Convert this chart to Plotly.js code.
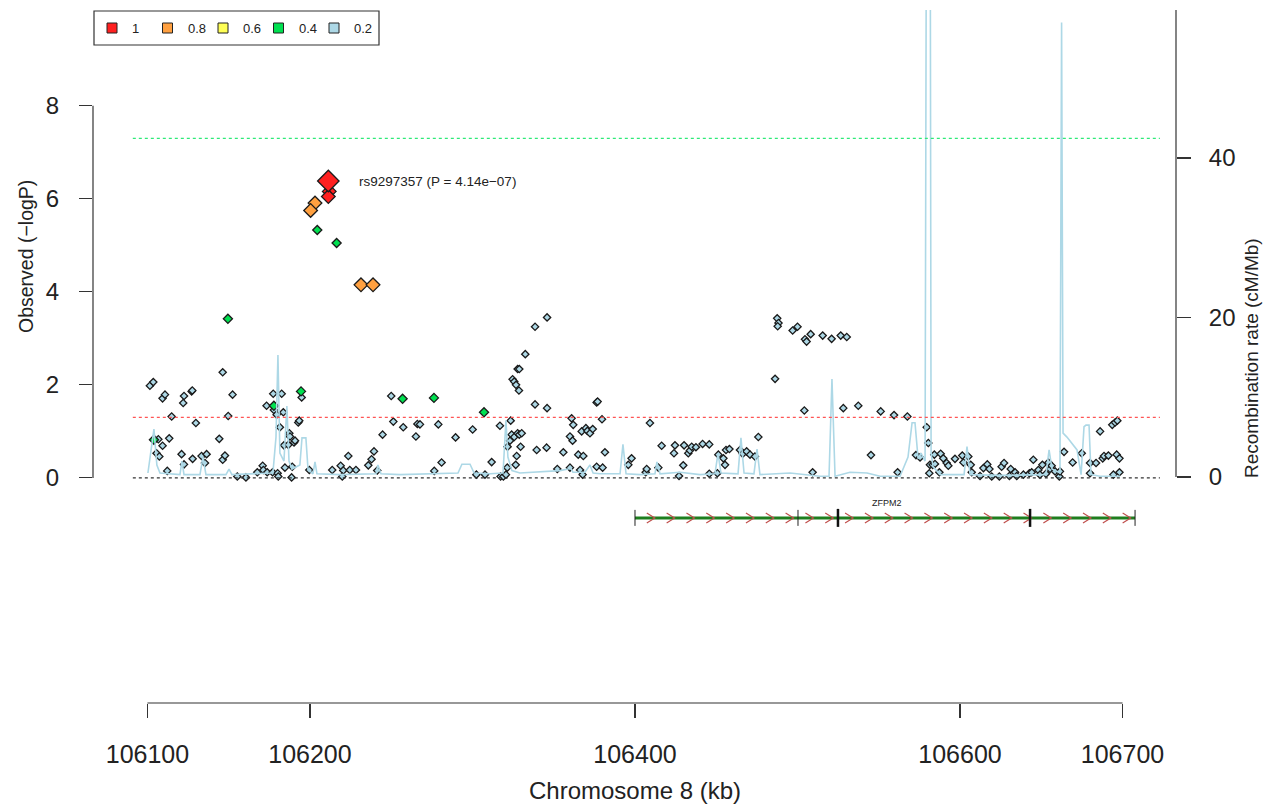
<!DOCTYPE html>
<html>
<head>
<meta charset="utf-8">
<script src="https://cdn.plot.ly/plotly-3.0.1.min.js"></script>
<style>html,body{margin:0;padding:0;background:#fff;}#chart{width:1273px;height:809px;}</style>
</head>
<body>
<div id="chart"></div>
<script>
// ---------------- DATA ----------------
// SNPs with r^2 < 0.2 (light blue)
const posLow = [106101.5,106103.6,106109.3,106110.8,106122.5,106122.0,106127.2,106127.6,106146.3,106152.4,106114.9,106129.8,106149.7,106106.7,106113.4,106109.3,106105.6,106107.3,106121.0,106122.5,106127.8,106133.3,106136.4,106135.4,106144.2,106146.3,106147.7,106112.2,106155.3,106160.6,106167.6,106170.9,106171.3,106173.7,106177.0,106180.1,106180.5,106184.6,106189.1,106188.7,106177.4,106182.6,106173.3,106177.8,106179.5,106183.6,106181.5,106187.3,106187.7,106184.0,106186.7,106190.2,106190.8,106192.8,106193.4,106194.9,106199.6,106213.7,106218.9,106220.5,106219.9,106223.6,106224.5,106228.3,106235.9,106237.9,106239.4,106241.4,106244.7,106250.0,106251.3,106257.4,106265.2,106266.1,106267.7,106279.0,106276.5,106281.0,106289.6,106300.1,106302.4,
106307.7,106311.8,106316.9,106317.3,106319.0,106320.6,106321.4,106321.6,106323.5,106323.1,106324.1,106325.7,106326.6,106327.2,106327.8,106328.8,106329.6,106330.3,106339.5,106345.6,106352.2,106355.9,106360.0,106360.0,106361.0,106362.0,106361.6,106365.1,106366.2,106367.8,106368.2,106367.2,106369.8,106370.7,106372.3,106374.0,106376.4,106379.7,106380.1,106381.5,106395.9,106397.9,106406.6,106407.2,106409.2,106414.4,106416.4,106424.0,106424.6,106427.1,106429.7,106430.2,106432.8,106433.8,106434.9,106437.5,106441.6,106445.7,106445.7,106450.7,106451.3,106454.4,106455.4,106456.0,106458.1,106464.6,106466.3,106468.7,106470.8,106473.8,106475.9,
106345.9,106338.5,106332.5,106327.8,106328.8,106324.7,106325.7,106326.8,106328.6,106338.5,106345.9,106376.4,106377.0,106486.2,106487.5,106488.3,106487.8,106497.0,106500.0,106504.6,106505.6,106508.1,106515.5,106521.0,106526.6,106530.3,106504.2,106528.2,106537.4,106551.2,106559.4,106567.6,106579.5,106580.5,106545.2,106572.9,106575.4,106509.3,106561.6,
106581.5,106583.2,106584.6,106584.2,106588.1,106589.7,106591.8,106592.8,106596.9,106601.4,106602.1,106605.1,106606.6,106607.2,106612.3,106614.4,106616.8,106618.1,106619.5,106624.2,106625.6,106627.1,106630.4,106631.2,106633.9,106634.9,106639.0,106642.7,106644.1,106645.1,106648.2,106649.2,106650.7,106652.9,106654.4,106655.4,106656.4,106658.5,106661.1,106661.5,106664.0,106669.3,106674.9,106680.0,106680.0,106683.7,106686.2,106687.8,106688.6,106691.3,106693.7,106695.4,106696.8,106696.4,106698.1,106698.1,106694.4,106581.1,106587.3];
const logpLow = [1.98,2.06,1.71,1.79,1.76,1.61,1.86,1.88,2.27,1.79,1.32,1.18,1.33,0.83,0.85,0.69,0.53,0.46,0.51,0.29,0.41,0.47,0.51,0.32,0.84,0.39,0.48,0.15,0.03,0.01,0.12,0.26,0.17,0.12,0.12,0.10,0.03,0.22,0.24,0.01,1.81,1.81,1.55,1.46,1.36,1.41,1.09,0.96,0.89,0.70,0.71,0.76,0.80,1.19,1.23,1.73,0.17,0.17,0.26,0.16,0.03,0.47,0.17,0.17,0.27,0.40,0.57,0.16,0.93,1.76,1.21,1.09,0.89,1.16,1.15,1.15,0.15,0.33,0.87,1.04,0.07,
0.07,0.34,1.12,0.03,0.03,0.07,0.22,0.67,1.23,0.80,0.93,0.88,0.28,0.47,0.96,0.93,0.67,0.96,0.60,0.65,0.19,0.55,0.89,0.22,1.28,1.14,0.80,0.50,0.17,0.07,0.47,1.00,1.07,1.01,0.96,1.05,0.24,1.26,0.22,0.55,0.28,0.42,0.12,0.19,1.18,0.22,0.69,0.53,0.70,0.04,0.27,0.70,0.53,0.59,0.67,0.66,0.73,0.72,0.09,0.10,0.50,0.42,0.28,0.60,0.62,0.60,0.52,0.57,0.50,0.46,0.88,
3.45,3.25,2.66,2.34,2.34,2.12,2.07,2.00,1.88,1.58,1.50,1.62,1.64,2.13,3.43,3.33,3.26,3.17,3.25,2.98,2.93,3.09,3.06,2.99,3.06,3.03,1.45,1.50,1.55,1.43,1.35,1.32,1.09,0.75,0.49,0.49,0.44,0.12,0.12,
0.28,0.28,0.30,0.50,0.52,0.42,0.32,0.26,0.41,0.48,0.33,0.46,0.28,0.12,0.04,0.21,0.29,0.19,0.03,0.03,0.24,0.32,0.04,0.19,0.12,0.04,0.07,0.10,0.12,0.39,0.17,0.07,0.28,0.09,0.33,0.19,0.26,0.14,0.03,0.14,0.56,0.33,0.53,0.32,0.10,0.32,1.00,0.42,0.47,0.48,1.14,1.19,1.23,0.50,0.42,0.12,0.07,0.10,0.12];
// r^2 0.4 bin (green)
const posMid = [106204.5,106216.4,106149.5,106104.0,106177.8,106194.5,106257.0,106276.3,106307.1];
const logpMid = [5.33,5.05,3.42,0.82,1.55,1.86,1.70,1.72,1.41];
// r^2 0.8 bin (orange)
const posHigh = [106203.1,106200.4,106231.4,106238.8];
const logpHigh = [5.91,5.75,4.15,4.15];
// r^2 1 bin (red)
const posTop = [106211.9,106211.3];
const logpTop = [6.16,6.05];
// index SNP
const leadSnp = "rs9297357";
const leadPos = 106211.3;
const leadP = 4.14e-07;
// recombination rate (cM/Mb)
const recombPos = [106100.3,106102.2,106104.0,106105.8,106107.7,106120.0,106121.2,106122.5,106132.3,106134.2,106136.0,106148.3,106150.2,106152.0,106177.2,106179.1,106180.3,106181.5,106184.0,106185.8,106187.1,106188.9,106193.8,106195.1,106197.5,106198.8,106201.8,106203.1,106204.3,106218.5,106240.6,106241.8,106243.7,106255.4,106291.1,106293.5,106298.5,106301.0,106310.8,106318.8,106320.6,106321.8,106324.3,106329.2,106353.8,106358.8,106360.0,106361.8,106369.2,106372.3,106374.2,106378.5,106390.8,106392.6,106394.5,106403.1,106412.3,106413.5,106415.4,106427.7,106440.0,106449.2,106451.1,106452.9,106463.4,106465.2,106467.1,106473.2,106475.1,106476.9,106495.4,106513.8,106519.4,106521.2,106523.1,106532.3,106542.8,106550.8,106563.1,106568.0,106570.5,106572.3,106574.2,106576.0,106578.5,106579.4,106581.6,106582.2,106583.4,106587.7,106602.5,106604.3,106606.2,106624.6,106652.9,106654.8,106656.6,106661.5,106662.5,106663.4,106665.8,106672.0,106674.5,106676.3,106677.5,106679.4,106680.6,106686.2,106698.5];
const recombRate = [0.5,3.5,6.0,1.5,0.5,0.3,2.0,0.3,0.3,2.5,0.3,0.3,1.0,0.3,0.5,5.0,15.3,3.0,2.0,8.9,2.0,1.0,1.5,4.9,4.9,1.0,0.4,1.9,0.4,0.3,0.4,1.5,0.4,0.3,0.5,1.6,1.6,0.5,0.4,0.5,7.1,2.5,0.8,0.5,0.8,1.0,1.3,0.6,0.6,1.5,0.5,0.4,0.4,4.1,0.4,0.3,0.4,1.9,0.4,0.6,0.3,0.4,3.0,0.5,0.4,4.9,0.5,0.4,3.5,0.3,0.5,0.1,0.1,12.3,0.1,0.6,0.5,0.1,0.1,2.5,6.8,6.8,2.3,3.0,2.0,80,80,3.0,1.3,0.3,0.3,3.8,0.3,0.2,0.3,3.4,1.0,0.5,57.0,5.5,5.0,3.4,0.3,6.3,6.5,6.5,0.3,0.1,0.1];
// gene track
const geneName = "ZFPM2";
const geneStart = 106400;
const geneEnd = 106707.7;
const exonThin = [106400, 106500.3, 106707.7];
const exonThick = [106524.9, 106643.1];
// legend
const ldLabels = ["1","0.8","0.6","0.4","0.2"];
const ldColors = ["#FF2020","#FFA040","#FFFF55","#00E050","#ADD8E6"];
// axis ticks
const xTicks = [106100,106200,106400,106600,106700];
const yTicks = [0,2,4,6,8];
const y2Ticks = [0,20,40];
const gwLine = 7.3, sugLine = 1.3;

// ---------------- LAYOUT HELPERS ----------------
const L=93, R=1176, T=10, B=703;
const px = X => (X-L)/(R-L);
const py = Y => (B-Y)/(B-T);
const FONT = "Liberation Sans, Arial, Helvetica, sans-serif";
const xr = [106066.5, 106732.9];
const yr = [-4.84, 10.06];
const y2r = [-28.34, 58.56];
const kbPerPx = (xr[1]-xr[0])/(R-L);
const yPerPx = (yr[1]-yr[0])/(B-T);
const geneY = -0.86;

function fmtP(p){
  const parts = p.toExponential(2).split('e');
  const ex = parseInt(parts[1],10);
  return parts[0] + 'e' + (ex<0?'\u2212':'+') + String(Math.abs(ex)).padStart(2,'0');
}

const traces = [];
traces.push({x: recombPos, y: recombRate, yaxis:'y2', type:'scatter', mode:'lines',
  line:{color:'#ADD8E6', width:1.6}, hoverinfo:'skip', showlegend:false});

// gene line
traces.push({x:[geneStart, geneEnd], y:[geneY, geneY], mode:'lines', line:{color:'#1E7E1E', width:3}, showlegend:false, hoverinfo:'skip'});
// chevrons
const chX=[], chY=[];
const step = 12.2;
const cw = 8*kbPerPx, chh = 5*yPerPx;
for (let p = geneStart + step; p < geneEnd; p += step) {
  chX.push(p-cw, p, p-cw, null);
  chY.push(geneY+chh, geneY, geneY-chh, null);
}
traces.push({x:chX, y:chY, mode:'lines', line:{color:'#C0504D', width:1.2}, showlegend:false, hoverinfo:'skip'});
// exon ticks
const exX=[], exY=[];
exonThin.forEach(p=>{exX.push(p,p,null); exY.push(geneY+8*yPerPx, geneY-8*yPerPx, null);});
traces.push({x:exX, y:exY, mode:'lines', line:{color:'#222', width:1}, showlegend:false, hoverinfo:'skip'});
const etX=[], etY=[];
exonThick.forEach(p=>{etX.push(p,p,null); etY.push(geneY+9*yPerPx, geneY-9*yPerPx, null);});
traces.push({x:etX, y:etY, mode:'lines', line:{color:'#111', width:2.5}, showlegend:false, hoverinfo:'skip'});

function pts(x, y, color, size){
  return {x:x, y:y, type:'scatter', mode:'markers', showlegend:false,
    marker:{symbol:'diamond', size:size, color:color, line:{color:'#1a1a1a', width:1.3}}};
}
traces.push(pts(posLow, logpLow, ldColors[4], 5.6));
traces.push(pts(posMid, logpMid, ldColors[3], 7));
traces.push(pts(posHigh, logpHigh, ldColors[1], 10.5));
traces.push(pts(posTop, logpTop, ldColors[0], 10.5));
traces.push(pts([leadPos], [-Math.log10(leadP)], ldColors[0], 16.5));

const shapes = [
  // threshold lines
  {type:'line', xref:'x', yref:'y', x0:106091, x1:106723, y0:gwLine, y1:gwLine, line:{color:'#2EEA78', width:1.2, dash:'dot'}},
  {type:'line', xref:'x', yref:'y', x0:106091, x1:106723, y0:sugLine, y1:sugLine, line:{color:'#FF5555', width:1.2, dash:'dot'}},
  {type:'line', xref:'x', yref:'y', x0:106091, x1:106723, y0:0, y1:0, line:{color:'#333', width:1.2, dash:'dot'}},
  // axis lines
  {type:'line', xref:'paper', yref:'y', x0:0, x1:0, y0:0, y1:8, line:{color:'#333', width:1.2}},
  {type:'line', xref:'paper', yref:'y2', x0:1, x1:1, y0:0, y1:y2r[1], line:{color:'#333', width:1.2}},
  {type:'line', xref:'x', yref:'paper', x0:xTicks[0], x1:xTicks[xTicks.length-1], y0:0, y1:0, line:{color:'#333', width:1.2}},
  // legend box
  {type:'rect', xref:'paper', yref:'paper', x0:px(94), x1:px(379), y0:py(45), y1:py(11), line:{color:'#333', width:1.2}, fillcolor:'rgba(255,255,255,0)'}
];
const annotations = [];
ldLabels.forEach((lab,i)=>{
  const cx = 112 + i*55.5;
  shapes.push({type:'rect', xref:'paper', yref:'paper', x0:px(cx-5), x1:px(cx+5), y0:py(33), y1:py(23), fillcolor:ldColors[i], line:{color:'#222', width:1}});
  annotations.push({xref:'paper', yref:'paper', x:px(cx+18), y:py(28), text:lab, showarrow:false, xanchor:'left', yanchor:'middle', font:{family:FONT, size:13, color:'#222'}});
});
annotations.push({xref:'x', yref:'y', x:leadPos, y:-Math.log10(leadP), xshift:29, text:leadSnp+" (P = "+fmtP(leadP)+")", showarrow:false, xanchor:'left', yanchor:'middle', font:{family:FONT, size:13.5, color:'#222'}});
annotations.push({xref:'x', yref:'y', x:(106524.9+106643.1)/2 - 29, y:geneY, yshift:15, text:geneName, showarrow:false, xanchor:'center', yanchor:'middle', font:{family:FONT, size:9, color:'#222'}});
annotations.push({xref:'paper', yref:'paper', x:px(26), y:py(257), text:'Observed (\u2212logP)', textangle:-90, showarrow:false, xanchor:'center', yanchor:'middle', font:{family:FONT, size:19.5, color:'#222'}});
annotations.push({xref:'paper', yref:'paper', x:px(1251), y:py(358), text:'Recombination rate (cM/Mb)', textangle:-90, showarrow:false, xanchor:'center', yanchor:'middle', font:{family:FONT, size:19, color:'#222'}});
annotations.push({xref:'paper', yref:'paper', x:px(635), y:py(790), text:'Chromosome 8 (kb)', showarrow:false, xanchor:'center', yanchor:'middle', font:{family:FONT, size:24, color:'#222'}});

const layout = {
  width:1273, height:809,
  margin:{l:L, r:1273-R, t:T, b:809-B, pad:0},
  paper_bgcolor:'#fff', plot_bgcolor:'#fff',
  showlegend:false,
  font:{family:FONT, color:'#222'},
  xaxis:{range:xr, tickvals:xTicks, ticktext:xTicks.map(String), ticks:'outside', ticklen:14, tickwidth:1.2, tickcolor:'#333',
    showgrid:false, zeroline:false, showline:false, tickfont:{family:FONT, size:25, color:'#222'}, ticklabelstandoff:15, fixedrange:true},
  yaxis:{range:yr, tickvals:yTicks, ticks:'outside', ticklen:13, tickwidth:1.2, tickcolor:'#333',
    showgrid:false, zeroline:false, showline:false, tickfont:{family:FONT, size:24, color:'#222'}, ticklabelstandoff:15, fixedrange:true},
  yaxis2:{range:y2r, overlaying:'y', side:'right', tickvals:y2Ticks, ticks:'outside', ticklen:14, tickwidth:1.2, tickcolor:'#333',
    showgrid:false, zeroline:false, showline:false, tickfont:{family:FONT, size:24, color:'#222'}, ticklabelstandoff:13, fixedrange:true},
  shapes:shapes, annotations:annotations
};
Plotly.newPlot('chart', traces, layout, {displayModeBar:false, staticPlot:true});
</script>
</body>
</html>
